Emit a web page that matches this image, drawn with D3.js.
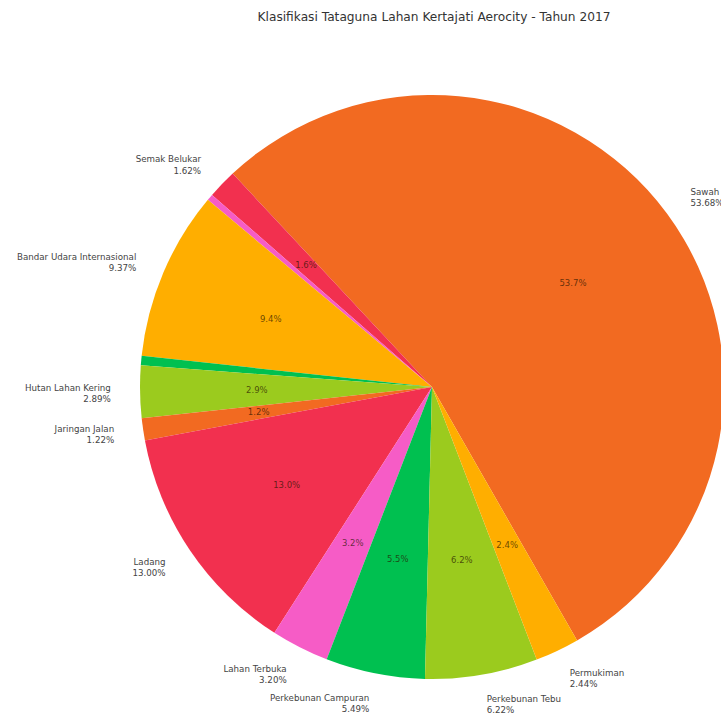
<!DOCTYPE html>
<html>
<head>
<meta charset="utf-8">
<script src="https://cdn.jsdelivr.net/npm/d3@7"></script>
<style>
  html, body { margin: 0; padding: 0; background: #fff; }
  svg { display: block; }
</style>
</head>
<body>
<div id="chart"></div>
<script>
// Data (counter-clockwise order starting from Sawah)
const categories = [
  "Sawah", "Semak Belukar", "Lainnya 1", "Bandar Udara Internasional", "Lainnya 2",
  "Hutan Lahan Kering", "Jaringan Jalan", "Ladang", "Lahan Terbuka",
  "Perkebunan Campuran", "Perkebunan Tebu", "Permukiman"
];
const values = [53.68, 1.62, 0.35, 9.37, 0.52, 2.89, 1.22, 13.00, 3.20, 5.49, 6.22, 2.44];
const colors = [
  "#f26a21", "#f2304f", "#f65cc6", "#ffae00", "#00c050",
  "#9bcb1e", "#f26a21", "#f2304f", "#f65cc6",
  "#00c050", "#9bcb1e", "#ffae00"
];
const title = "Klasifikasi Tataguna Lahan Kertajati Aerocity - Tahun 2017";

const W = 721, H = 717;
const cx = 432, cy = 387, R = 292;
const startDeg = -60.2; // matplotlib-style start angle (math degrees)

const svg = d3.select("#chart").append("svg")
  .attr("width", W).attr("height", H)
  .style("font-family", "'DejaVu Sans', sans-serif");

svg.append("text")
  .attr("x", 434).attr("y", 21)
  .attr("text-anchor", "middle")
  .attr("font-size", 12.2)
  .attr("fill", "#333")
  .text(title);

const toRad = d => d * Math.PI / 180;
const a0 = toRad(90 - startDeg);
const pie = d3.pie().sort(null).value(d => d.v)
  .startAngle(a0).endAngle(a0 - 2 * Math.PI);

const data = categories.map((c, i) => ({ c, v: values[i], col: colors[i] }));
const arcs = pie(data);

const g = svg.append("g").attr("transform", `translate(${cx},${cy})`);
const arc = d3.arc().innerRadius(0).outerRadius(R);
const pctArc = d3.arc().innerRadius(0.6 * R).outerRadius(0.6 * R);
const lblArc = d3.arc().innerRadius(1.1 * R).outerRadius(1.1 * R);

g.selectAll("path.slice").data(arcs).join("path")
  .attr("class", "slice")
  .attr("d", arc)
  .attr("fill", d => d.data.col);

const total = d3.sum(values);
const shown = arcs.filter(d => d.data.v / total * 100 >= 1);

// percentage labels inside
g.selectAll("text.pct").data(shown).join("text")
  .attr("class", "pct")
  .attr("x", d => pctArc.centroid(d)[0])
  .attr("y", d => pctArc.centroid(d)[1])
  .attr("text-anchor", "middle")
  .attr("dominant-baseline", "central")
  .attr("font-size", 8.5)
  .attr("fill", "rgba(40,20,0,0.7)")
  .text(d => (d.data.v / total * 100).toFixed(1) + "%");

// outer labels
const lg = g.selectAll("g.lbl").data(shown).join("g").attr("class", "lbl");
lg.each(function(d) {
  const [x, y] = lblArc.centroid(d);
  const anchor = x >= 0 ? "start" : "end";
  const t = d3.select(this).append("text")
    .attr("text-anchor", anchor)
    .attr("font-size", 8.7)
    .attr("fill", "#444");
  t.append("tspan").attr("x", x).attr("y", y - 1.5).text(d.data.c);
  t.append("tspan").attr("x", x).attr("y", y + 9.8)
    .text((d.data.v / total * 100).toFixed(2) + "%");
});
</script>
</body>
</html>
